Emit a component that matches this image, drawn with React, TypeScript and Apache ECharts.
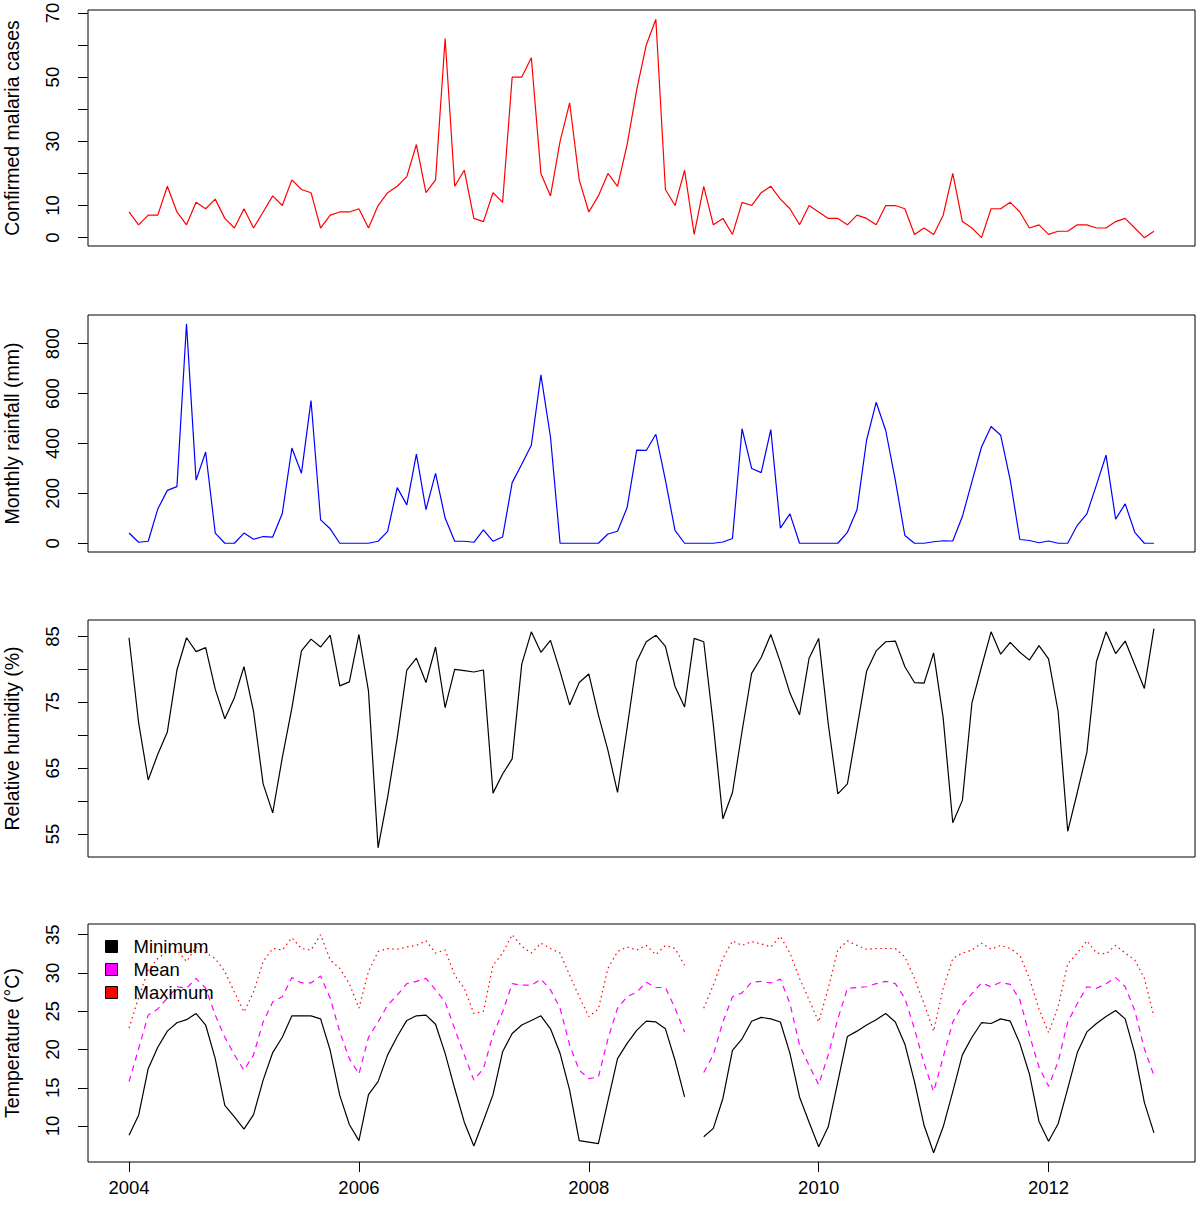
import React, { useEffect, useRef } from "react";
import * as echarts from "echarts";

// ---- Data (monthly, Jan 2004 .. Dec 2012) ----
const START_YEAR = 2004;

const malaria = [
  8, 4, 7, 7, 16, 8, 4, 11, 9, 12, 6, 3,
  9, 3, 8, 13, 10, 18, 15, 14, 3, 7, 8, 8,
  9, 3, 10, 14, 16, 19, 29, 14, 18, 62, 16, 21,
  6, 5, 14, 11, 50, 50, 56, 20, 13, 30, 42, 18,
  8, 13, 20, 16, 29, 46, 60, 68, 15, 10, 21, 1,
  16, 4, 6, 1, 11, 10, 14, 16, 12, 9, 4, 10,
  8, 6, 6, 4, 7, 6, 4, 10, 10, 9, 1, 3,
  1, 7, 20, 5, 3, 0, 9, 9, 11, 8, 3, 4,
  1, 2, 2, 4, 4, 3, 3, 5, 6, 3, 0, 2,
];

const rainfall = [
  41, 4, 8, 137, 212, 227, 880, 253, 366, 41, 0, 0,
  41, 16, 27, 25, 119, 382, 281, 572, 94, 58, 0, 0,
  0, 0, 8, 48, 223, 154, 357, 135, 280, 101, 8, 8,
  4, 54, 8, 25, 243, 317, 393, 675, 426, 0, 0, 0,
  0, 0, 37, 48, 143, 373, 372, 437, 253, 52, 0, 0,
  0, 0, 5, 19, 459, 300, 283, 456, 61, 118, 0, 0,
  0, 0, 0, 44, 134, 413, 565, 452, 253, 31, 0, 0,
  6, 10, 9, 107, 247, 386, 468, 433, 253, 15, 11, 2,
  9, 0, 0, 72, 118, 234, 353, 97, 158, 44, 0, 0,
];

const humidity = [
  84.8, 71.9, 63.2, 67.1, 70.5, 79.9, 84.8, 82.7, 83.3, 77.0, 72.5, 75.7,
  80.4, 73.6, 62.6, 58.2, 66.6, 74.1, 82.8, 84.6, 83.4, 85.2, 77.5, 78.1,
  85.3, 76.7, 52.9, 60.6, 69.6, 79.9, 81.7, 78.0, 83.4, 74.2, 80.0, 79.8,
  79.6, 79.9, 61.2, 64.1, 66.4, 80.8, 85.7, 82.6, 84.4, 79.7, 74.6, 78.0,
  79.3, 73.1, 67.7, 61.3, 71.1, 81.2, 84.2, 85.2, 83.5, 77.4, 74.3, 84.7,
  84.2, 71.6, 57.3, 61.3, 70.6, 79.4, 81.8, 85.3, 81.1, 76.4, 73.1, 81.7,
  84.7, 71.7, 61.1, 62.6, 71.1, 79.7, 82.8, 84.2, 84.3, 80.4, 78.0, 77.9,
  82.5, 72.6, 56.7, 60.1, 74.9, 80.4, 85.7, 82.3, 84.1, 82.6, 81.4, 83.6,
  81.6, 73.6, 55.4, 61.3, 67.4, 81.2, 85.7, 82.4, 84.3, 80.7, 77.1, 86.2,
];

const tempMin = [
  8.8, 11.4, 17.5, 20.3, 22.4, 23.5, 23.9, 24.7, 23.2, 18.8, 12.7, 11.2,
  9.6, 11.5, 16.0, 19.6, 21.6, 24.4, 24.4, 24.4, 24.0, 19.9, 14.0, 10.2,
  8.1, 14.1, 15.8, 19.3, 21.7, 23.8, 24.4, 24.5, 23.3, 19.5, 14.9, 10.5,
  7.4, 10.7, 14.1, 19.7, 22.1, 23.2, 23.8, 24.4, 22.7, 19.5, 14.7, 8.1,
  7.9, 7.7, 13.3, 18.8, 20.8, 22.5, 23.7, 23.6, 22.7, 18.6, 13.8, null,
  8.6, 9.7, 13.6, 19.9, 21.4, 23.7, 24.2, 24.0, 23.6, 19.5, 13.8, 10.5,
  7.3, 9.9, 15.8, 21.7, 22.4, 23.2, 23.9, 24.7, 23.6, 20.7, 15.8, 10.1,
  6.5, 9.9, 14.5, 19.3, 21.6, 23.5, 23.4, 24.0, 23.7, 20.8, 16.8, 10.6,
  8.0, 10.3, 14.9, 19.6, 22.3, 23.4, 24.3, 25.1, 24.0, 19.5, 13.1, 9.1,
];

const tempMean = [
  15.8, 20.1, 24.5, 25.3, 26.7, 28.2, 28.0, 29.3, 28.0, 24.5, 21.6, 19.3,
  17.3, 19.3, 23.6, 26.2, 26.9, 29.4, 28.7, 28.7, 29.6, 26.7, 22.3, 18.8,
  16.8, 21.6, 23.6, 25.8, 27.1, 28.6, 28.9, 29.3, 27.8, 26.2, 22.7, 19.3,
  16.0, 17.5, 21.9, 24.9, 28.6, 28.4, 28.4, 29.2, 27.8, 25.4, 20.6, 17.3,
  16.2, 16.4, 21.4, 25.4, 26.9, 27.5, 28.8, 28.1, 28.1, 25.4, 22.3, null,
  17.0, 19.3, 23.6, 26.9, 27.4, 28.8, 28.9, 28.7, 29.2, 26.0, 20.6, 17.9,
  15.4, 19.3, 24.0, 28.0, 28.1, 28.2, 28.6, 28.9, 28.6, 26.7, 22.7, 18.2,
  14.5, 19.0, 23.6, 25.8, 27.3, 28.7, 28.2, 28.8, 28.5, 26.5, 21.9, 17.7,
  15.2, 18.4, 23.6, 26.0, 28.2, 28.0, 28.6, 29.4, 28.2, 25.1, 20.1, 16.6,
];

const tempMax = [
  22.8, 26.8, 30.4, 31.9, 32.8, 33.0, 31.5, 33.4, 32.6, 31.9, 30.2, 27.5,
  24.9, 27.5, 31.5, 33.2, 33.0, 34.6, 33.2, 33.0, 35.0, 31.7, 30.6, 28.6,
  25.4, 30.2, 32.8, 33.2, 33.1, 33.4, 33.6, 34.2, 32.6, 33.0, 29.7, 28.0,
  24.7, 25.0, 31.0, 32.6, 35.0, 33.5, 32.6, 33.9, 33.2, 32.6, 29.7, 26.9,
  24.3, 25.3, 30.6, 32.8, 33.4, 33.0, 33.6, 32.4, 33.6, 33.2, 31.0, null,
  25.4, 28.4, 31.9, 34.2, 33.6, 34.1, 33.8, 33.4, 34.8, 32.6, 29.3, 26.5,
  23.6, 28.0, 33.0, 34.2, 33.6, 33.1, 33.2, 33.2, 33.2, 32.1, 29.3, 26.0,
  22.4, 28.0, 31.9, 32.6, 33.0, 33.9, 33.1, 33.6, 33.2, 32.3, 29.3, 25.3,
  22.2, 25.6, 31.2, 32.6, 34.2, 32.6, 32.5, 33.6, 32.6, 31.7, 29.3, 24.3,
];

const yearTicks = [2004, 2006, 2008, 2010, 2012];
const malariaTicks = [0, 10, 20, 30, 40, 50, 60, 70];
const malariaLabels = [0, 10, 30, 50, 70];
const rainTicks = [0, 200, 400, 600, 800];
const humidTicks = [55, 60, 65, 70, 75, 80, 85];
const humidLabels = [55, 65, 75, 85];
const tempTicks = [10, 15, 20, 25, 30, 35];

const panelNames = [
  "Confirmed malaria cases",
  "Monthly rainfall (mm)",
  "Relative humidity (%)",
  "Temperature (\u00B0C)",
];
const legendNames = ["Minimum", "Mean", "Maximum"];

// ---- styling ----
const FONT = "Liberation Sans, Arial, Helvetica, sans-serif";
const FS = 18.5;
const FS_NAME = 19.5;
const X_MIN = 2003.643;
const X_MAX = 2013.274;

const toPairs = (vals: (number | null)[]) =>
  vals.map((v, i) => [START_YEAR + i / 12, v === null ? "-" : v]);

export default function App() {
  const ref = useRef<HTMLDivElement>(null);

  useEffect(() => {
    if (!ref.current) return;
    const chart = echarts.init(ref.current, undefined, { renderer: "svg" });

    const grids = [
      { top: 10, height: 236 },
      { top: 315, height: 237 },
      { top: 620, height: 237 },
      { top: 924, height: 238 },
    ].map((g) => ({
      left: 88,
      right: 5,
      top: g.top,
      height: g.height,
      containLabel: false,
      outerBoundsMode: "none",
      show: true,
      borderColor: "#000",
      borderWidth: 1,
      backgroundColor: "transparent",
    }));

    const yRanges = [
      { min: -2.6, max: 70.9, ticks: malariaTicks, labels: malariaLabels },
      { min: -35, max: 915, ticks: rainTicks, labels: rainTicks },
      { min: 51.5, max: 87.5, ticks: humidTicks, labels: humidLabels },
      { min: 5.3, max: 36.4, ticks: tempTicks, labels: tempTicks },
    ];

    const yAxes = yRanges.map((r, k) => ({
      type: "value",
      gridIndex: k,
      min: r.min,
      max: r.max,
      name: panelNames[k],
      nameLocation: "middle",
      nameRotate: 90,
      nameGap: 66,
      nameTextStyle: { fontFamily: FONT, fontSize: FS_NAME, color: "#000" },
      axisLine: { show: false },
      axisTick: {
        show: true,
        length: 10,
        customValues: r.ticks,
        lineStyle: { color: "#000", width: 1 },
      },
      axisLabel: {
        show: true,
        rotate: 90,
        margin: 26,
        customValues: r.labels,
        hideOverlap: false,
        formatter: (v: number) => String(v),
        fontFamily: FONT,
        fontSize: FS,
        color: "#000",
      },
      splitLine: { show: false },
    }));

    const xAxes = [0, 1, 2, 3].map((k) =>
      k < 3
        ? { type: "value", gridIndex: k, min: X_MIN, max: X_MAX, show: false }
        : {
            type: "value",
            gridIndex: k,
            min: X_MIN,
            max: X_MAX,
            axisLine: { show: false },
            axisTick: {
              show: true,
              length: 10,
              customValues: yearTicks,
              lineStyle: { color: "#000", width: 1 },
            },
            axisLabel: {
              show: true,
              margin: 16,
              customValues: yearTicks,
              formatter: (v: number) => String(Math.round(v)),
              fontFamily: FONT,
              fontSize: FS,
              color: "#000",
            },
            splitLine: { show: false },
          }
    );

    const lineSeries = (
      name: string,
      k: number,
      vals: (number | null)[],
      color: string,
      type: any = "solid"
    ) => ({
      type: "line",
      name,
      xAxisIndex: k,
      yAxisIndex: k,
      data: toPairs(vals),
      symbol: "none",
      showSymbol: false,
      connectNulls: false,
      silent: true,
      lineStyle: { color, width: 1.2, type },
      itemStyle: { color },
    });

    chart.setOption({
      animation: false,
      backgroundColor: "#fff",
      textStyle: { fontFamily: FONT },
      grid: grids,
      xAxis: xAxes,
      yAxis: yAxes,
      legend: {
        data: legendNames,
        orient: "vertical",
        left: 100,
        top: 932,
        icon: "rect",
        itemWidth: 12,
        itemHeight: 12,
        itemGap: 4,
        selectedMode: false,
        itemStyle: { borderColor: "#000", borderWidth: 1 },
        textStyle: {
          fontFamily: FONT,
          fontSize: FS,
          color: "#000",
          padding: [0, 0, 0, 11],
        },
      },
      series: [
        lineSeries("Malaria", 0, malaria, "#ff0000"),
        lineSeries("Rainfall", 1, rainfall, "#0000ff"),
        lineSeries("Humidity", 2, humidity, "#000000"),
        lineSeries("Minimum", 3, tempMin, "#000000"),
        lineSeries("Mean", 3, tempMean, "#ff00ff", [6, 5]),
        lineSeries("Maximum", 3, tempMax, "#ff0000", [1.5, 3.5]),
      ],
    });

    return () => {
      chart.dispose();
    };
  }, []);

  return (
    <div
      ref={ref}
      style={{
        position: "fixed",
        left: 0,
        top: 0,
        width: 1200,
        height: 1205,
        background: "#fff",
      }}
    />
  );
}
